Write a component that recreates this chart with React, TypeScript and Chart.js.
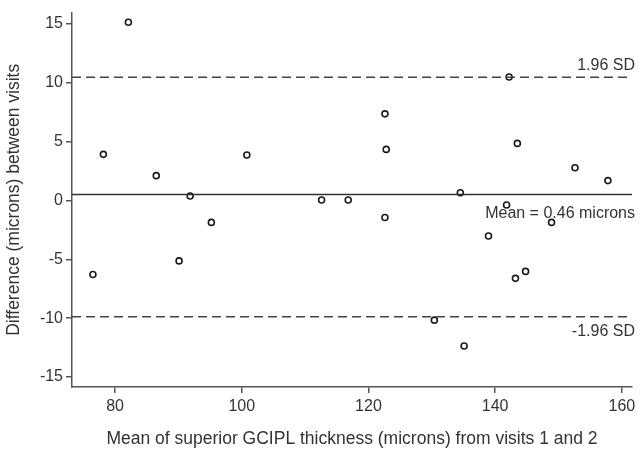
import React, { useEffect, useRef } from "react";
import { Chart, registerables } from "chart.js";

Chart.register(...registerables);

const meanValues = [82.1, 78.15, 86.5, 91.85, 95.2, 100.8, 112.6, 116.8, 122.6, 122.8, 122.6, 134.5, 142.2, 143.5, 141.8, 148.9, 152.6, 157.8, 76.5, 90.1, 138.95, 143.2, 144.8, 130.4, 135.1];
const diffValues = [15.13, 3.91, 2.1, 0.37, -1.87, 3.85, 0.03, 0.03, 7.35, 4.33, -1.45, 0.65, 10.48, 4.84, -0.39, -1.87, 2.77, 1.68, -6.29, -5.14, -3.02, -6.62, -6.03, -10.17, -12.37];
const xTicks = [80, 100, 120, 140, 160];
const yTicks = [-15, -10, -5, 0, 5, 10, 15];
const xRange = [73.2, 161.6];
const yRange = [-15.85, 15.95];
const meanDiff = 0.5;
const upperLimit = 10.45;
const lowerLimit = -9.88;
const upperLabel = "1.96 SD";
const meanLabel = "Mean = 0.46 microns";
const lowerLabel = "-1.96 SD";
const xTitle = "Mean of superior GCIPL thickness (microns) from visits 1 and 2";
const yTitle = "Difference (microns) between visits";

const FONT = "'Liberation Sans', Arial, sans-serif";
const AXIS = "#555555";

export default function App() {
  const ref = useRef<HTMLCanvasElement | null>(null);
  useEffect(() => {
    if (!ref.current) return;
    const labelPlugin = {
      id: "labels",
      afterDatasetsDraw(chart: any) {
        const { ctx, scales } = chart;
        const xs = scales.x;
        const ys = scales.y;
        const xr = xs.getPixelForValue(xRange[1]) + 3;
        ctx.save();
        ctx.font = `16px ${FONT}`;
        ctx.fillStyle = "#333333";
        ctx.textAlign = "right";
        ctx.textBaseline = "middle";
        ctx.fillText(upperLabel, xr, ys.getPixelForValue(upperLimit) - 12);
        ctx.fillText(meanLabel, xr, ys.getPixelForValue(meanDiff) + 19);
        ctx.fillText(lowerLabel, xr, ys.getPixelForValue(lowerLimit) + 15);
        ctx.restore();
      },
    };
    const lineData = (v: number) => [
      { x: xRange[0], y: v },
      { x: xRange[1], y: v },
    ];
    const chart = new Chart(ref.current, {
      type: "scatter",
      data: {
        datasets: [
          {
            type: "line",
            data: lineData(upperLimit),
            borderColor: "#444444",
            borderWidth: 1.5,
            borderDash: [9, 5],
            pointRadius: 0,
          },
          {
            type: "line",
            data: lineData(meanDiff),
            borderColor: "#333333",
            borderWidth: 1.5,
            pointRadius: 0,
          },
          {
            type: "line",
            data: lineData(lowerLimit),
            borderColor: "#444444",
            borderWidth: 1.5,
            borderDash: [9, 5],
            pointRadius: 0,
          },
          {
            data: meanValues.map((x, i) => ({ x, y: diffValues[i] })),
            pointStyle: "circle",
            pointRadius: 3,
            borderColor: "#1a1a1a",
            borderWidth: 1.6,
            backgroundColor: "#ffffff",
          },
        ] as any,
      },
      options: {
        animation: false,
        responsive: false,
        maintainAspectRatio: false,
        layout: { padding: { top: 7, right: 11, left: 0, bottom: 0 } },
        plugins: { legend: { display: false }, tooltip: { enabled: false } },
        scales: {
          x: {
            type: "linear",
            min: xRange[0],
            max: xRange[1],
            afterBuildTicks: (s: any) => {
              s.ticks = xTicks.map((v) => ({ value: v }));
            },
            afterFit: (s: any) => {
              s.height = 67;
            },
            grid: { drawOnChartArea: false, drawTicks: true, tickLength: 6, color: AXIS, lineWidth: 1.5 },
            border: { color: AXIS, width: 1.5 },
            ticks: { color: "#333333", font: { family: FONT, size: 16 }, padding: 4, maxRotation: 0 },
            title: {
              display: true,
              text: xTitle,
              color: "#333333",
              font: { family: FONT, size: 17.5 },
              padding: { top: 0, bottom: 4 },
            },
          },
          y: {
            type: "linear",
            min: yRange[0],
            max: yRange[1],
            afterBuildTicks: (s: any) => {
              s.ticks = yTicks.map((v) => ({ value: v }));
            },
            afterFit: (s: any) => {
              s.width = 72;
            },
            grid: { drawOnChartArea: false, drawTicks: true, tickLength: 6, color: AXIS, lineWidth: 1.5 },
            border: { color: AXIS, width: 1.5 },
            ticks: { color: "#333333", font: { family: FONT, size: 16 }, padding: 3 },
            title: {
              display: true,
              text: yTitle,
              color: "#333333",
              font: { family: FONT, size: 17.5 },
              padding: { top: 4, bottom: 0 },
            },
          },
        },
      },
      plugins: [labelPlugin],
    } as any);
    return () => chart.destroy();
  }, []);
  return (
    <div style={{ position: "absolute", left: 0, top: 0, width: 643, height: 454, background: "#fff" }}>
      <canvas ref={ref} width={643} height={454} style={{ width: 643, height: 454 }} />
    </div>
  );
}
